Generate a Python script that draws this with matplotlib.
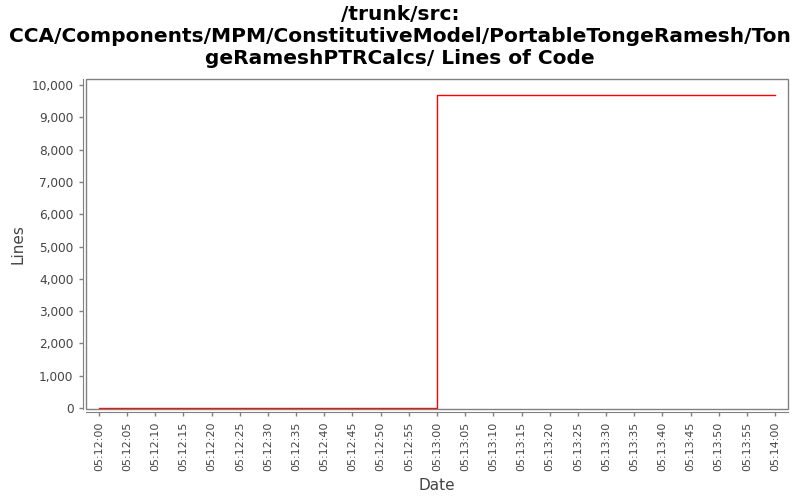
import matplotlib

matplotlib.use("Agg")
import matplotlib.dates as mdates
import matplotlib.pyplot as plt
import pandas as pd
from matplotlib.patches import Rectangle
from matplotlib.ticker import FuncFormatter, MultipleLocator

TITLE = ("/trunk/src:\n"
         "CCA/Components/MPM/ConstitutiveModel/PortableTongeRamesh/Ton\n"
         "geRameshPTRCalcs/ Lines of Code")

times = ["05:12:00", "05:13:00", "05:14:00"]
lines_of_code = [0, 9680, 9680]

GRAY = "#808080"
TEXT = "#444444"


def main() -> None:
    t = pd.to_datetime(["2010-01-01 " + s for s in times])

    fig = plt.figure(figsize=(8, 5), dpi=100)
    ax = fig.add_axes([0.1075, 0.182, 0.8775, 0.66])

    ax.plot(t, lines_of_code, drawstyle="steps-post", color="red", lw=1)

    pad = pd.Timedelta(seconds=2.3)
    ax.set_xlim(t[0] - pad, t[-1] + pad)
    ax.set_ylim(-30, 10190)

    # plot box plus slightly detached axis lines, JFreeChart style
    ax.add_patch(Rectangle((0, 0), 1, 1, transform=ax.transAxes, fill=False,
                           edgecolor=GRAY, lw=1, clip_on=False, zorder=5))
    for side in ("top", "right"):
        ax.spines[side].set_visible(False)
    for side in ("left", "bottom"):
        ax.spines[side].set_position(("outward", 2.5))
        ax.spines[side].set_color(GRAY)

    ax.yaxis.set_major_locator(MultipleLocator(1000))
    ax.yaxis.set_major_formatter(FuncFormatter(lambda v, _: f"{v:,.0f}"))
    ax.xaxis.set_major_locator(mdates.SecondLocator(bysecond=range(0, 60, 5)))
    ax.xaxis.set_major_formatter(mdates.DateFormatter("%H:%M:%S"))
    ax.tick_params(axis="both", colors=GRAY, labelcolor=TEXT, length=3,
                   width=1)
    ax.tick_params(axis="y", labelsize=8.7)
    ax.tick_params(axis="x", labelsize=8, labelrotation=90)

    ax.set_ylabel("Lines", fontsize=11, color=TEXT, labelpad=4)
    ax.set_xlabel("Date", fontsize=11, color=TEXT, labelpad=5)
    fig.suptitle(TITLE, fontsize=14.5, fontweight="bold", y=0.99,
                 linespacing=1.2)

    fig.savefig("out.png", dpi=100)
    plt.close(fig)


if __name__ == "__main__":
    main()
